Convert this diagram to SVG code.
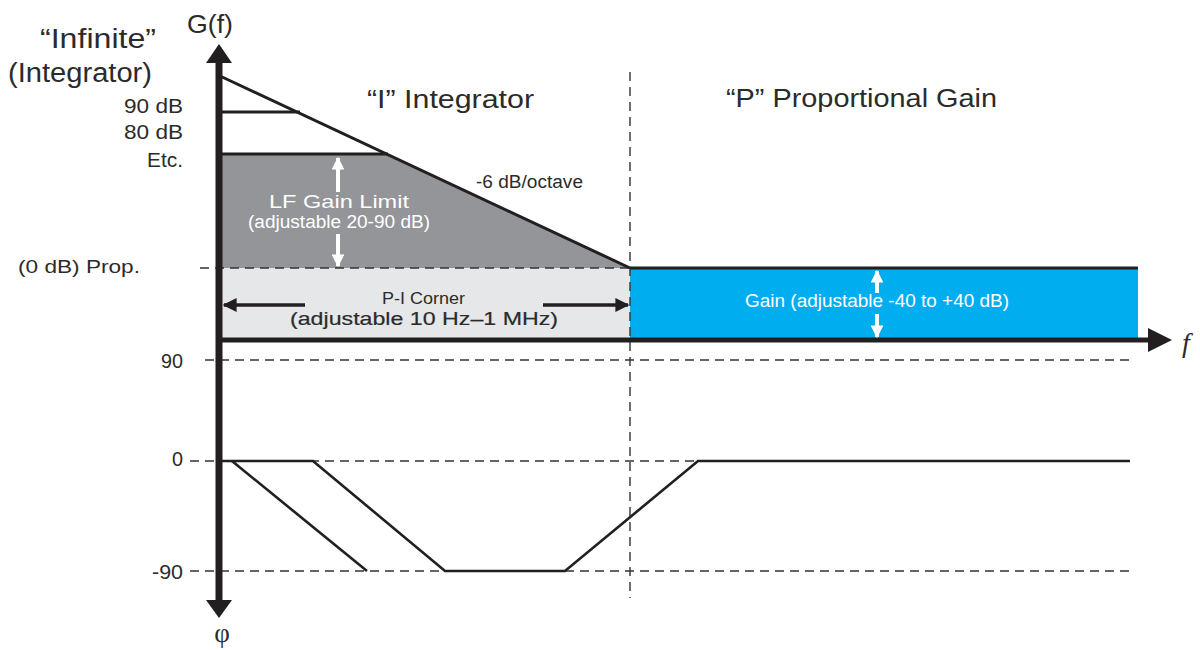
<svg xmlns="http://www.w3.org/2000/svg" width="1200" height="650" viewBox="0 0 1200 650">
<style>
text{font-family:"Liberation Sans",Arial,sans-serif}
.lbl{fill:#2b2b2b}
.dash{stroke:#333;stroke-width:1.4;stroke-dasharray:9 6;fill:none}
.thick{stroke:#231f20;stroke-width:3;fill:none}
.ph{stroke:#231f20;stroke-width:2.6;fill:none;stroke-linejoin:miter}
.wt{fill:#fff}
</style>
<defs>
<marker id="ah" viewBox="0 0 10 10" refX="9" refY="5" markerWidth="4" markerHeight="4" orient="auto" markerUnits="strokeWidth"><path d="M0,0L10,5L0,10z" fill="#231f20"/></marker>
<marker id="aw" viewBox="0 0 10 10" refX="9" refY="5" markerWidth="3.2" markerHeight="3.2" orient="auto" markerUnits="strokeWidth"><path d="M0,0L10,5L0,10z" fill="#fff"/></marker>
</defs>
<rect width="1200" height="650" fill="#fff"/>
<g id="regions">
<polygon points="220,154 388,154 630,268 220,268" fill="#939598"/>
<rect x="220" y="268" width="410" height="72" fill="#e6e7e8"/>
<rect x="630" y="268" width="508" height="72" fill="#00aeef"/>
</g>
<g id="grid">
<line class="dash" x1="200" y1="268" x2="630" y2="268"/>
<line class="dash" x1="630" y1="72" x2="630" y2="598"/>
<line class="dash" x1="205" y1="360" x2="1130" y2="360"/>
<line class="dash" x1="190" y1="461" x2="1130" y2="461"/>
<line class="dash" x1="190" y1="571" x2="1130" y2="571"/>
</g>
<g id="connectors">
<line class="thick" x1="220" y1="76" x2="630" y2="268"/>
<line class="thick" x1="220" y1="112" x2="300" y2="112"/>
<line class="thick" x1="220" y1="154" x2="388" y2="154"/>
<line class="thick" x1="630" y1="268" x2="1138" y2="268"/>
<line x1="219" y1="340" x2="1150" y2="340" stroke="#231f20" stroke-width="5"/>
<polygon points="1148,328 1172,340 1148,352" fill="#231f20"/>
<line x1="219" y1="62" x2="219" y2="600" stroke="#231f20" stroke-width="7"/>
<polygon points="206,63 219,44 232,63" fill="#231f20"/>
<polygon points="206,600 219,618 232,600" fill="#231f20"/>
<polyline class="ph" points="232,461 367,571"/>
<polyline class="ph" points="222,461 313,461 445,571 565,571 698,461 1130,461"/>
<line x1="338" y1="192" x2="338" y2="158" stroke="#fff" stroke-width="4" marker-end="url(#aw)"/>
<line x1="338" y1="234" x2="338" y2="266" stroke="#fff" stroke-width="4" marker-end="url(#aw)"/>
<line x1="877" y1="293" x2="877" y2="271" stroke="#fff" stroke-width="4" marker-end="url(#aw)"/>
<line x1="877" y1="314" x2="877" y2="337" stroke="#fff" stroke-width="4" marker-end="url(#aw)"/>
<line x1="305" y1="305" x2="224" y2="305" stroke="#231f20" stroke-width="3.5" marker-end="url(#ah)"/>
<line x1="543" y1="305" x2="628" y2="305" stroke="#231f20" stroke-width="3.5" marker-end="url(#ah)"/>
</g>
<g id="labels">
<text class="lbl" x="187" y="33" font-size="25" textLength="46" lengthAdjust="spacingAndGlyphs">G(f)</text>
<text class="lbl" x="40" y="48" font-size="27" textLength="116" lengthAdjust="spacingAndGlyphs">“Infinite”</text>
<text class="lbl" x="8" y="82" font-size="27" textLength="144" lengthAdjust="spacingAndGlyphs">(Integrator)</text>
<text class="lbl" x="124" y="113" font-size="21" textLength="59" lengthAdjust="spacingAndGlyphs">90 dB</text>
<text class="lbl" x="124" y="139" font-size="21" textLength="59" lengthAdjust="spacingAndGlyphs">80 dB</text>
<text class="lbl" x="147" y="167" font-size="20" textLength="36" lengthAdjust="spacingAndGlyphs">Etc.</text>
<text class="lbl" x="18" y="273" font-size="18" textLength="122" lengthAdjust="spacingAndGlyphs">(0 dB) Prop.</text>
<text class="lbl" x="161" y="368" font-size="21" textLength="22" lengthAdjust="spacingAndGlyphs">90</text>
<text class="lbl" x="172" y="466" font-size="21" textLength="11" lengthAdjust="spacingAndGlyphs">0</text>
<text class="lbl" x="152" y="579" font-size="21" textLength="31" lengthAdjust="spacingAndGlyphs">-90</text>
<text class="lbl" x="222" y="642" font-size="27" text-anchor="middle" style="font-family:'Liberation Serif',serif">φ</text>
<text class="lbl" x="1186" y="352" font-size="28" font-style="italic" text-anchor="middle" style="font-family:'Liberation Serif',serif">f</text>
<text class="lbl" x="367" y="108" font-size="25" textLength="167" lengthAdjust="spacingAndGlyphs">“I” Integrator</text>
<text class="lbl" x="726" y="107" font-size="25" textLength="271" lengthAdjust="spacingAndGlyphs">“P” Proportional Gain</text>
<text class="lbl" x="476" y="188" font-size="18" textLength="107" lengthAdjust="spacingAndGlyphs">-6 dB/octave</text>
<text class="wt" x="269" y="208" font-size="19" textLength="140" lengthAdjust="spacingAndGlyphs">LF Gain Limit</text>
<text class="wt" x="248" y="228" font-size="18" textLength="182" lengthAdjust="spacingAndGlyphs">(adjustable 20-90 dB)</text>
<text class="lbl" x="382" y="304" font-size="17" textLength="83" lengthAdjust="spacingAndGlyphs">P-I Corner</text>
<text class="lbl" x="290" y="325" font-size="19" textLength="268" lengthAdjust="spacingAndGlyphs" stroke="#2b2b2b" stroke-width="0.2">(adjustable 10 Hz–1 MHz)</text>
<text class="wt" x="745" y="307" font-size="18" textLength="264" lengthAdjust="spacingAndGlyphs">Gain (adjustable -40 to +40 dB)</text>
</g>
</svg>
